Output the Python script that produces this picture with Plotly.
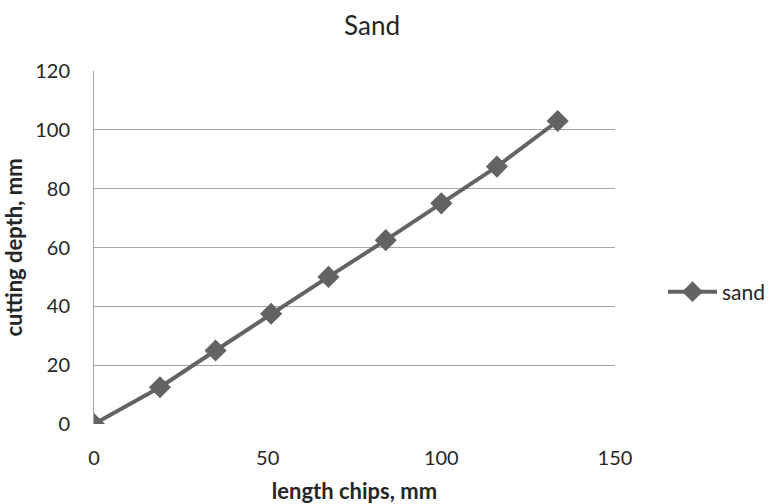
import plotly.graph_objects as go

length_chips = [0, 19, 35, 51, 67.5, 84, 100, 116, 133.5]
cutting_depth = [0, 12.5, 25, 37.5, 50, 62.5, 75, 87.5, 103]
series_name = "sand"
x_ticks = [0, 50, 100, 150]
y_ticks = [0, 20, 40, 60, 80, 100, 120]

FONT = "Lato"
GRAY = "#636363"
TXT = "#262626"

fig = go.Figure()
fig.add_trace(go.Scatter(
    x=length_chips, y=cutting_depth, name=series_name, mode="lines+markers",
    line=dict(color=GRAY, width=4),
    marker=dict(symbol="diamond", size=17, color=GRAY),
    showlegend=True,
))

fig.update_layout(
    width=769, height=504,
    margin=dict(l=94, r=154, t=71, b=80, autoexpand=False),
    paper_bgcolor="white", plot_bgcolor="white",
    font=dict(family=FONT, color=TXT),
    title=dict(text="Sand", x=372 / 769, xref="container", xanchor="center", y=1 - 26 / 504, yanchor="middle",
               font=dict(size=26, family=FONT, color=TXT)),
    xaxis=dict(range=[0, 150], tickvals=x_ticks, showgrid=False, zeroline=False, automargin=False,
               showline=False, ticks="", ticklabelstandoff=20, tickfont=dict(size=20, color=TXT),
               title=dict(text="<b>length chips, mm</b>", font=dict(size=22, color=TXT), standoff=17)),
    yaxis=dict(range=[0, 120], tickvals=y_ticks, showgrid=True, gridcolor="#a6a6a6", gridwidth=1,
               zeroline=False, showline=True, linecolor="#a6a6a6", linewidth=1, ticks="", automargin=False,
               ticklabelstandoff=19, tickfont=dict(size=20, color=TXT),
               title=dict(text="<b>cutting depth, mm</b>", font=dict(size=22, color=TXT), standoff=8)),
    legend=dict(x=663 / 769, y=1 - 292 / 504, xref="container", yref="container",
                xanchor="left", yanchor="middle", itemwidth=49,
                font=dict(size=21, family=FONT, color=TXT), bgcolor="rgba(0,0,0,0)"),
)

fig.write_html("out.html")
